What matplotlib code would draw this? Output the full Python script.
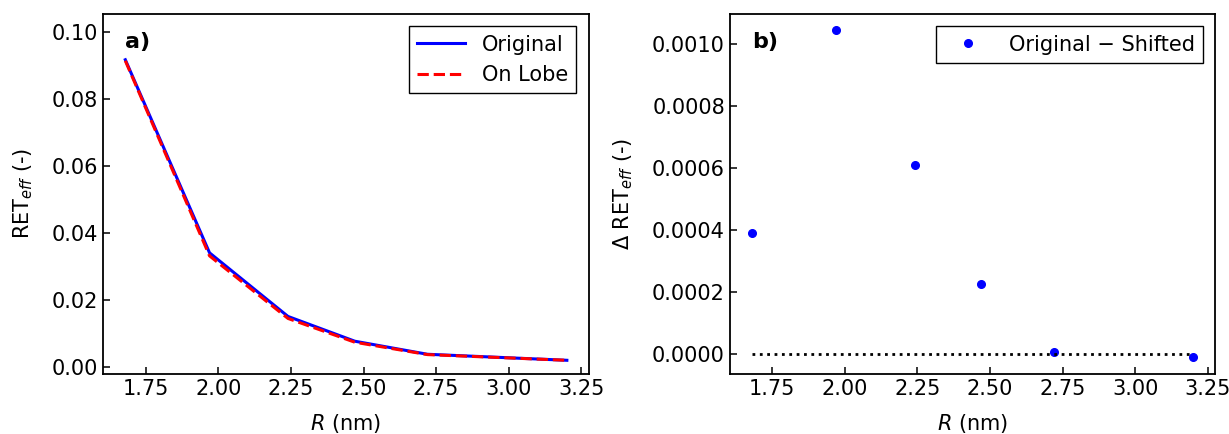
import numpy as np
import matplotlib
matplotlib.use("Agg")
import matplotlib.pyplot as plt
from matplotlib.ticker import FormatStrFormatter

# --- данные ---
R_nm = [1.68, 1.97, 2.24, 2.47, 2.72, 3.20]
ret_original = [0.0917, 0.0340, 0.0150, 0.0076, 0.0037, 0.0019]
ret_on_lobe = [0.0914, 0.0331, 0.0144, 0.0073, 0.0036, 0.0019]
delta_ret = [0.000389, 0.001045, 0.000610, 0.000225, 0.000005, -0.000011]
r_ticks = [1.75, 2.00, 2.25, 2.50, 2.75, 3.00, 3.25]

plt.rcParams.update({
    "font.size": 15,
    "xtick.direction": "in",
    "ytick.direction": "in",
    "xtick.major.size": 5,
    "ytick.major.size": 5,
    "xtick.major.width": 1.1,
    "ytick.major.width": 1.1,
    "axes.linewidth": 1.3,
    "legend.fancybox": False,
    "legend.edgecolor": "black",
    "legend.framealpha": 1.0,
})

fig, (a, b) = plt.subplots(1, 2, figsize=(12.29, 4.34), dpi=100)
fig.subplots_adjust(left=0.084, right=0.989, top=0.968, bottom=0.139, wspace=0.29)

# ---------- a) ----------
a.plot(R_nm, ret_original, "b-", lw=2.2, label="Original")
a.plot(R_nm, ret_on_lobe, "r--", lw=2.2, label="On Lobe")
a.set_xlabel(r"$R$ (nm)", labelpad=10)
a.set_ylabel(r"RET$_{eff}$ (-)", labelpad=12)
a.set_xticks(r_ticks)
a.set_ylim(-0.0021, 0.1054)
a.text(0.045, 0.95, "a)", transform=a.transAxes, fontsize=16, fontweight="bold", va="top")
a.legend(loc="upper right", borderaxespad=0.6, handlelength=2.3)

# ---------- b) ----------
b.plot(R_nm, delta_ret, "o", color="blue", ms=5.5, label="Original \u2212 Shifted")
b.plot([R_nm[0], R_nm[-1]], [0, 0], "k:", lw=2)
b.set_xlabel(r"$R$ (nm)", labelpad=10)
b.set_ylabel(r"$\Delta$ RET$_{eff}$ (-)", labelpad=12)
b.set_xticks(r_ticks)
b.set_yticks([0, 0.0002, 0.0004, 0.0006, 0.0008, 0.0010])
b.yaxis.set_major_formatter(FormatStrFormatter("%.4f"))
b.text(0.045, 0.95, "b)", transform=b.transAxes, fontsize=16, fontweight="bold", va="top")
b.legend(loc="upper right", borderaxespad=0.6, handlelength=2.3)

fig.savefig("out.png", dpi=100)
